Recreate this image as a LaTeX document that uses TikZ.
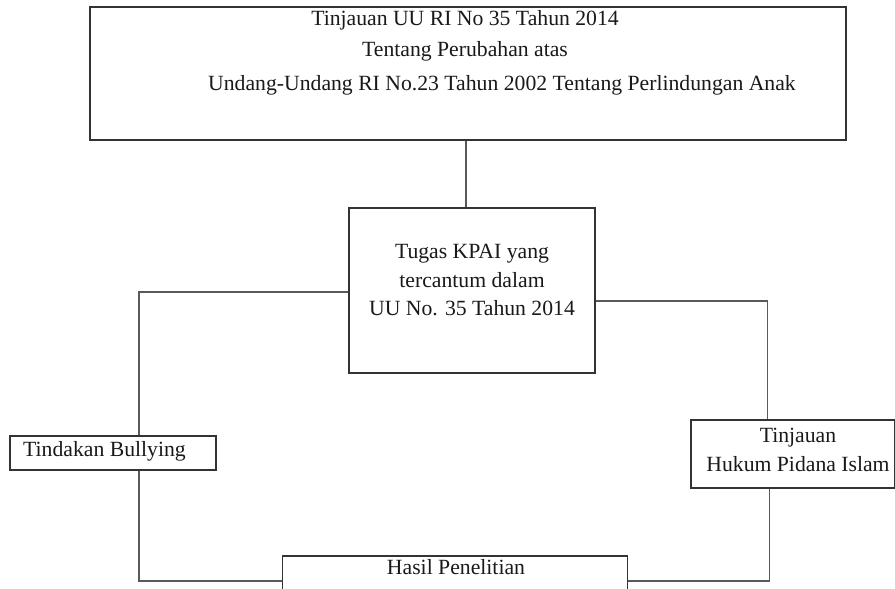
\documentclass[tikz,border=0pt]{standalone}
\usepackage{fontspec}
\setmainfont{Liberation Serif}
\begin{document}
\begin{tikzpicture}[x=1pt,y=-1pt,
  box/.style={draw=black!80,line width=1.2pt,inner sep=0pt,rectangle},
  txt/.style={font=\fontsize{21.7}{28.5}\selectfont,text=black!90,inner sep=0pt,align=center},
  conn/.style={draw=black!65,line width=1.3pt}]
\useasboundingbox (0,0) rectangle (895,589);
\clip (0,0) rectangle (895,589);
% boxes
\node[box,minimum width=756,minimum height=133] (top) at (468,73.5) {};
\node[txt] (t1) at (465,20) {Tinjauan UU RI No 35 Tahun 2014};
\node[txt] (t2) at (465,51) {Tentang Perubahan atas};
\node[txt] (t3) at (502,85) {Undang-Undang RI No.23 Tahun 2002 Tentang Perlindungan Anak};
\node[box,minimum width=246,minimum height=165] (mid) at (472,290.5) {};
\node[txt] (m1) at (472,280) {Tugas KPAI yang\\tercantum dalam\\UU No. 35 Tahun 2014};
\node[box,minimum width=206,minimum height=34] (bul) at (113,453) {};
\node[txt,anchor=west] (b1) at (23,451) {Tindakan Bullying};
\node[box,minimum width=204,minimum height=68] (tin) at (793,454) {};
\node[txt] (ti1) at (798,450) {Tinjauan\\Hukum Pidana Islam};
\node[box,minimum width=345,minimum height=50] (has) at (455,581) {};
\node[txt] (h1) at (456,567) {Hasil Penelitian};
% connectors
\draw[conn] ([xshift=-6pt]mid.north) -- ([xshift=-6pt]mid.north |- top.south);
\draw[conn] ([yshift=-1.5pt]mid.west) -| ([xshift=26pt]bul.north);
\draw[conn] ([xshift=26pt]bul.south) |- (has.west);
\draw[conn] ([yshift=-10.5pt]mid.east) -| ([xshift=-25.5pt]tin.north);
\draw[conn] ([xshift=-23.5pt]tin.south) |- (has.east);
\end{tikzpicture}
\end{document}
